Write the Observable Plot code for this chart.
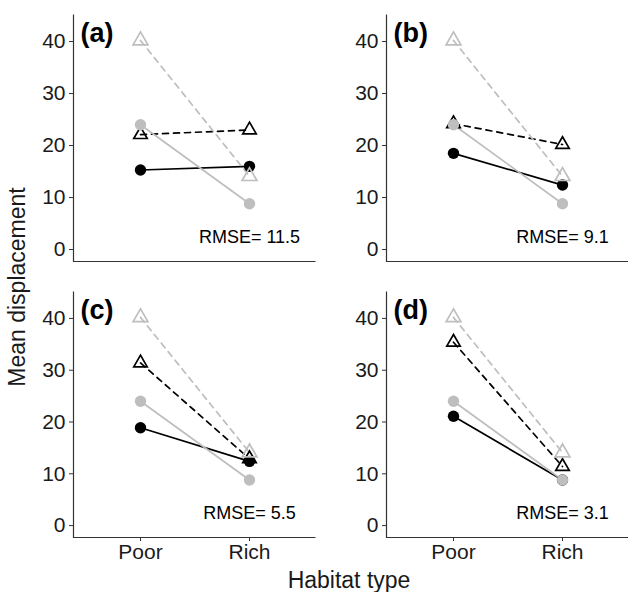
<!DOCTYPE html>
<html>
<head>
<meta charset="utf-8">
<script src="https://cdn.jsdelivr.net/npm/d3@7"></script>
<script src="https://cdn.jsdelivr.net/npm/@observablehq/plot@0.6"></script>
<style>
  html, body { margin: 0; padding: 0; background: #fff; }
  #root { position: relative; width: 628px; height: 592px; font-family: "Liberation Sans", Arial, sans-serif; color: #1a1a1a; overflow: hidden; }
  .cell { position: absolute; }
  .ylab { position: absolute; left: 17px; top: 287px; transform: translate(-50%, -50%) rotate(-90deg); white-space: nowrap; font-size: 23px; }
  .xlab { position: absolute; left: 349px; top: 580px; transform: translate(-50%, -50%); white-space: nowrap; font-size: 23px; }
</style>
</head>
<body>
<div id="root">
  <div class="ylab">Mean displacement</div>
  <div class="xlab">Habitat type</div>
</div>
<script>
// ---- data ----
const habitats = ["Poor", "Rich"];
const panelLabels = ["(a)", "(b)", "(c)", "(d)"];
const rmse = ["11.5", "9.1", "5.5", "3.1"];
const obsTriangle = [40.2, 14.1];   // grey dashed, open triangles (same in every panel)
const obsCircle = [24.0, 8.8];      // grey solid, filled circles (same in every panel)
const modelTriangle = [[22.1, 23.0], [24.2, 20.2], [31.4, 12.9], [35.4, 11.4]]; // black dashed
const modelCircle = [[15.3, 16.0], [18.5, 12.4], [18.9, 12.4], [21.1, 8.8]];    // black solid
const yTicks = [0, 10, 20, 30, 40];

// ---- layout ----
const cells = [
  {left: 0,   top: 0,   width: 315, height: 280, mL: 73, mT: 14, mB: 19, xAxis: false},
  {left: 315, top: 0,   width: 313, height: 280, mL: 71, mT: 14, mB: 19, xAxis: false},
  {left: 0,   top: 280, width: 315, height: 290, mL: 73, mT: 11, mB: 33, xAxis: true},
  {left: 315, top: 280, width: 313, height: 290, mL: 71, mT: 11, mB: 33, xAxis: true}
];
const yDomain = [-2.3, 45.2];
const rmseLabelY = 2.3;
const grey = "#bebebe";
const dark = "#000000";
const axisColor = "#333333";

const rows = (values) => habitats.map((h, i) => ({habitat: h, value: values[i]}));

const root = document.getElementById("root");

cells.forEach((c, i) => {
  const w = c.width - c.mL;
  const h = c.height - c.mT - c.mB;
  const gTri = rows(obsTriangle);
  const gCir = rows(obsCircle);
  const mTri = rows(modelTriangle[i]);
  const mCir = rows(modelCircle[i]);
  const plot = Plot.plot({
    width: c.width,
    height: c.height,
    marginLeft: c.mL,
    marginRight: 0,
    marginTop: c.mT,
    marginBottom: c.mB,
    style: {fontFamily: "'Liberation Sans', Arial, sans-serif", fontSize: "21px", color: "#1a1a1a", background: "transparent", overflow: "visible"},
    x: {type: "point", domain: habitats, padding: 0.6, axis: null},
    y: {domain: yDomain, axis: null},
    marks: [
      Plot.frame({stroke: axisColor, strokeWidth: 1.2, strokeDasharray: `0 ${w + h} ${w + h}`}),
      Plot.axisY({ticks: yTicks, tickSize: 4, tickPadding: 4, stroke: axisColor, label: null, fontSize: 21}),
      c.xAxis ? Plot.axisX({tickSize: 4, tickPadding: 3, stroke: axisColor, label: null, fontSize: 21}) : null,
      // lines
      Plot.line(mTri, {x: "habitat", y: "value", stroke: dark, strokeWidth: 1.7, strokeDasharray: "6,5"}),
      Plot.line(mCir, {x: "habitat", y: "value", stroke: dark, strokeWidth: 1.7}),
      Plot.line(gTri, {x: "habitat", y: "value", stroke: grey, strokeWidth: 1.7, strokeDasharray: "6,5"}),
      Plot.line(gCir, {x: "habitat", y: "value", stroke: grey, strokeWidth: 1.7}),
      // points
      Plot.dot(mTri, {x: "habitat", y: "value", symbol: "triangle", r: 5, stroke: dark, strokeWidth: 1.7, fill: "none"}),
      Plot.dot(mCir, {x: "habitat", y: "value", r: 5.7, fill: dark, stroke: "none"}),
      Plot.dot(gTri, {x: "habitat", y: "value", symbol: "triangle", r: 5.5, stroke: grey, strokeWidth: 1.7, fill: "none"}),
      Plot.dot(gCir, {x: "habitat", y: "value", r: 5.7, fill: grey, stroke: "none"}),
      // annotations
      Plot.text([rmse[i]], {x: () => habitats[1], y: () => rmseLabelY, text: d => `RMSE= ${d}`, fontSize: 18, fill: "#000", textAnchor: "middle", lineAnchor: "middle"}),
      Plot.text([panelLabels[i]], {frameAnchor: "top-left", text: d => d, dx: 7, dy: 8, fontSize: 27, fontWeight: "bold", fill: "#000", textAnchor: "start", lineAnchor: "top"})
    ]
  });
  const div = document.createElement("div");
  div.className = "cell";
  div.style.left = c.left + "px";
  div.style.top = c.top + "px";
  div.appendChild(plot);
  root.appendChild(div);
});
</script>
</body>
</html>
